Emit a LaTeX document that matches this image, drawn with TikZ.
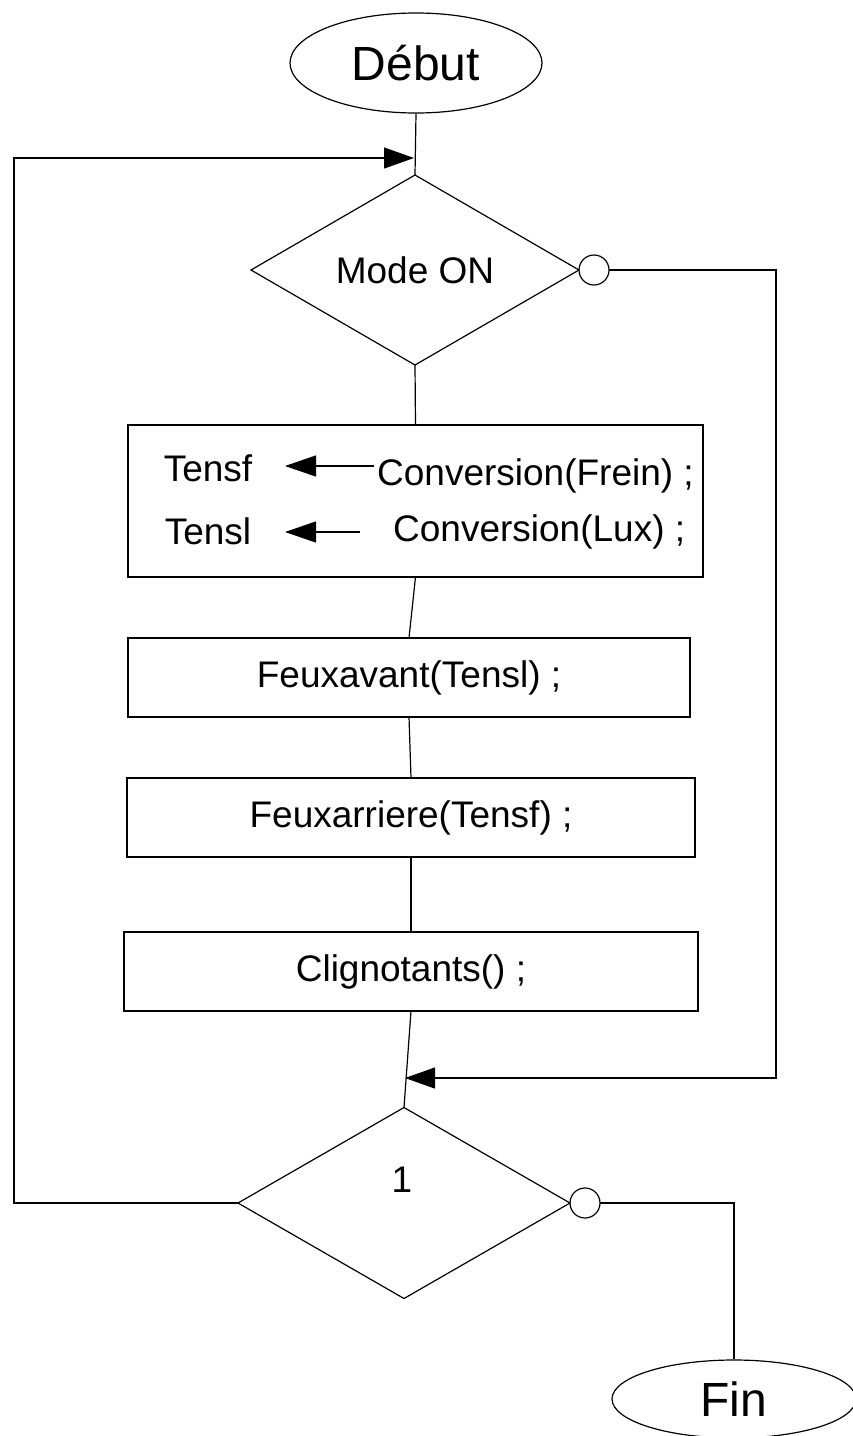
\documentclass[tikz,border=0pt]{standalone}
\usepackage{fontspec}
\setmainfont{Liberation Sans}
\usetikzlibrary{shapes.geometric,arrows.meta}
\begin{document}
\begin{tikzpicture}[x=1pt,y=-1pt,
  every node/.style={font=\fontsize{37}{44}\selectfont},
  line/.style={line width=1.2pt},
  term/.style={ellipse,draw,line width=1.2pt,inner sep=0pt,font=\fontsize{48}{56}\selectfont},
  decision/.style={diamond,draw,line width=1.2pt,inner sep=0pt,outer sep=0pt},
  stepbox/.style={rectangle,draw,line width=1.2pt,inner sep=0pt,outer sep=0pt},
  connector/.style={circle,draw,line width=1.2pt,minimum size=30pt,inner sep=0pt,outer sep=0pt},
  bigtip/.style={-{Triangle[length=30pt,width=21pt]}},
  smalltip/.style={-{Triangle[length=31pt,width=21pt]}},
  txt/.style={inner sep=0pt}]
\useasboundingbox (0,0) rectangle (852,1436);

% start / end terminals
\node[term,minimum width=252pt,minimum height=100pt] (debut) at (416,63) {Début};
\node[term,minimum width=244pt,minimum height=78pt] (fin) at (734,1399) {Fin};

% decisions
\node[decision,minimum width=328pt,minimum height=190pt] (mode) at (415,270) {Mode ON};
\node[decision,minimum width=332pt,minimum height=191pt] (test) at (404,1203) {};
\node[txt] (one) at (402,1180) {1};

% exit circles on the right corners
\node[connector,anchor=west] (c1) at (mode.east) {};
\node[connector,anchor=west] (c2) at (test.east) {};

% processing steps
\node[stepbox,minimum width=575pt,minimum height=152pt] (conv) at (415.5,501) {};
\node[stepbox,minimum width=562pt,minimum height=79pt] (avant) at (409,677.5) {Feuxavant(Tensl) ;};
\node[stepbox,minimum width=568pt,minimum height=79pt] (arriere) at (411,817.5) {Feuxarriere(Tensf) ;};
\node[stepbox,minimum width=574pt,minimum height=79pt] (clig) at (411,971.5) {Clignotants() ;};

% assignments inside the first step
\node[txt] (tensf) at (208,468) {Tensf};
\node[txt] (tensl) at (208,531) {Tensl};
\node[txt,anchor=west] (cf) at (377,476) {Conversion(Frein) ;};
\node[txt,anchor=west] (cl) at (393,532) {Conversion(Lux) ;};
\coordinate (af0) at (374,466);
\coordinate (af1) at (285,466);
\coordinate (al0) at (360,532);
\coordinate (al1) at (285,532);
\draw[line,smalltip] (af0) -- (af1);
\draw[line,smalltip] (al0) -- (al1);

% junction points
\coordinate (join1) at (414,158);
\coordinate (join2) at (405,1078);

% main flow
\draw[line] (debut.south) -- (mode.north);
\draw[line] (mode.south) -- (conv.north);
\draw[line] (conv.south) -- (avant.north);
\draw[line] (avant.south) -- (arriere.north);
\draw[line] (arriere.south) -- (clig.north);
\draw[line] (clig.south) -- (test.north);

% loop back to the start
\draw[line,bigtip] (test.west) -- ++(-224,0) |- (join1);
% bypass when mode is off
\draw[line,bigtip] (c1.east) -- ++(167,0) |- (join2);
% exit to the end
\draw[line] (c2.east) -| (fin.north);
\end{tikzpicture}
\end{document}
